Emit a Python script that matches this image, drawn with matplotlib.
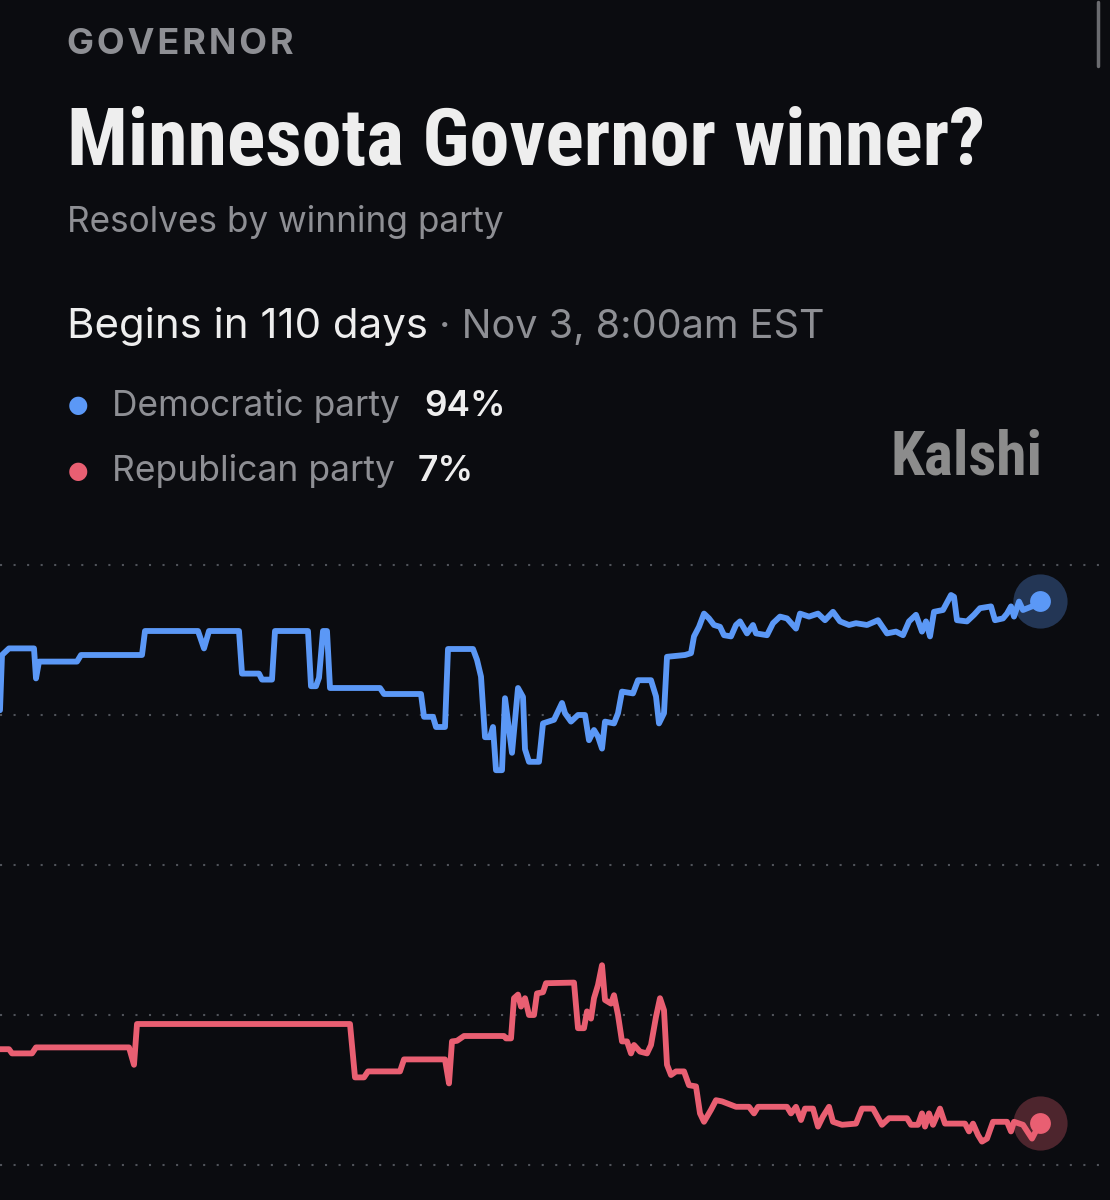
import matplotlib
matplotlib.use("Agg")
import matplotlib.pyplot as plt
from matplotlib import font_manager as fm

# ---------------- data ----------------
dem_t = [0, 2, 9, 34, 36, 39, 77, 81, 142, 145,
         198, 204, 209, 239, 242, 259, 262, 272, 275, 308,
         311, 316, 319, 323, 327, 330, 380, 384, 421, 424,
         433, 436, 445, 448, 473, 477, 481, 485, 490, 493,
         496, 502, 505, 512, 518, 523, 525, 529, 539, 543,
         554, 562, 565, 571, 578, 585, 589, 594, 598, 602,
         605, 614, 618, 622, 633, 638, 651, 656, 659, 664,
         667, 685, 691, 694, 699, 704, 709, 714, 720, 724,
         731, 736, 740, 747, 753, 756, 767, 773, 780, 787,
         796, 800, 809, 818, 825, 833, 840, 849, 856, 867,
         878, 887, 896, 903, 909, 916, 922, 926, 930, 934,
         943, 951, 954, 957, 967, 974, 980, 991, 995, 1003,
         1007, 1011, 1014, 1019, 1023, 1032, 1040]
dem_v = [75.8, 85, 86.1, 86.1, 81.1, 83.9, 83.9, 85, 85, 89,
         89, 86.1, 89, 89, 81.9, 81.9, 80.9, 80.9, 89, 89,
         79.8, 79.8, 81.2, 89, 89, 79.5, 79.5, 78.5, 78.5, 74.7,
         74.7, 73, 73, 86, 86, 84.2, 81.4, 71.3, 71.3, 73,
         65.8, 65.8, 77.8, 68.7, 79.5, 78, 69.3, 67.2, 67.2, 73.6,
         74.2, 77, 75.3, 73.9, 75, 75, 70.8, 72.5, 71.4, 69.4,
         73.9, 73.6, 75.3, 78.9, 78.6, 80.8, 80.8, 78.1, 73.6, 75.3,
         84.7, 85, 85.3, 88.1, 89.7, 91.9, 91.1, 90, 89.7, 88.3,
         88.1, 90, 90.6, 88.6, 90, 88.6, 88.3, 90.3, 91.4, 91.1,
         89.4, 91.9, 91.4, 91.9, 90.8, 92.2, 90.6, 90, 90.3, 90,
         90.8, 88.6, 88.9, 88.3, 90.6, 91.7, 88.9, 90.6, 88.1, 92.2,
         92.5, 95, 94.7, 90.8, 90.6, 91.7, 92.8, 93.1, 90.8, 91.1,
         91.9, 93.1, 91.4, 93.9, 92.5, 93.1, 94]

rep_t = [0, 9, 12, 32, 36, 129, 134, 137, 350, 355,
         364, 368, 400, 404, 445, 449, 452, 457, 464, 504,
         506, 511, 514, 518, 521, 525, 529, 534, 537, 543,
         546, 574, 578, 584, 587, 591, 594, 598, 602, 605,
         611, 614, 618, 622, 627, 631, 634, 640, 647, 651,
         656, 660, 664, 667, 671, 676, 684, 689, 696, 700,
         704, 711, 716, 722, 736, 749, 754, 758, 787, 791,
         796, 801, 805, 813, 818, 823, 829, 833, 842, 856,
         862, 873, 882, 889, 907, 911, 918, 922, 925, 929,
         933, 940, 945, 965, 969, 973, 978, 982, 987, 993,
         1007, 1011, 1014, 1023, 1032, 1040]
rep_v = [19.3, 19.3, 18.6, 18.6, 19.6, 19.6, 16.7, 23.5, 23.5, 14.6,
         14.6, 15.6, 15.6, 17.6, 17.6, 13.6, 20.6, 20.7, 21.5, 21.5,
         21.1, 21.1, 27.8, 28.4, 26.4, 27.8, 25, 25, 28.6, 28.8,
         30.3, 30.4, 22.8, 22.8, 25.6, 24.4, 27.8, 30, 33.3, 27.5,
         26.9, 28.3, 25, 20.6, 20.6, 18.6, 20, 18.9, 18.6, 20,
         24.7, 27.8, 25.8, 16.7, 15, 15.6, 15.6, 13.3, 13.1, 8.6,
         7.2, 9.2, 10.8, 10.6, 9.7, 9.7, 8.6, 9.7, 9.7, 8.6,
         9.7, 7.5, 9.4, 9.4, 6.4, 8.1, 9.7, 7.2, 6.7, 6.9,
         9.4, 9.4, 6.7, 7.8, 7.8, 6.7, 6.7, 8.6, 6.4, 8.6,
         6.7, 9.4, 6.9, 6.9, 5.6, 6.9, 5, 3.9, 4.4, 7.2,
         7.2, 5.6, 7.2, 6.7, 4.4, 7]

grid_levels = [0, 25, 50, 75, 100]
series_names = ["Democratic party", "Republican party"]
series_last = ["94%", "7%"]

# ---------------- style ----------------
BG = "#0b0c10"
BLUE = "#5b98f6"
RED = "#e95f72"
GRAY = "#8e8f94"
WHITE = "#eeeeee"
GRID = "#50535a"

avail = {f.name for f in fm.fontManager.ttflist}

def pick(names):
    for n in names:
        if n in avail:
            return n
    return "DejaVu Sans"

NARROW = pick(["Roboto Condensed", "Liberation Sans Narrow", "Roboto"])
SANS = pick(["Inter", "Roboto", "Lato"])

W, H = 1110, 1200
fig = plt.figure(figsize=(W / 100, H / 100), dpi=100, facecolor=BG)
renderer = fig.canvas.get_renderer()

def fx(px):
    return px / W

def fy(py):
    return 1 - py / H

def put(x0, x1, base, s, color, fam, weight="normal", size=20):
    t = fig.text(fx(x0), fy(base), s, color=color, fontsize=size,
                 fontweight=weight, family=[fam, "DejaVu Sans"],
                 va="baseline", ha="left")
    if x1 is not None:
        bb = t.get_window_extent(renderer)
        t.set_fontsize(size * (x1 - x0) / bb.width)
    return t

# chart axes: value 100 at y=565px, 0 at y=1165px
ax = fig.add_axes([0, fy(1190), 1, (1190 - 540) / H])
ax.set_facecolor(BG)
ax.set_xlim(0, 1110)
ax.set_ylim(-25 / 6, 625 / 6)
ax.axis("off")

for g in grid_levels:
    ax.axhline(g, color=GRID, lw=1.5, ls=(0, (1, 5.5)), zorder=1)

ax.plot(dem_t, dem_v, color=BLUE, lw=4.2, solid_joinstyle="round",
        solid_capstyle="round", zorder=3)
ax.plot(rep_t, rep_v, color=RED, lw=4.2, solid_joinstyle="round",
        solid_capstyle="round", zorder=3)

# end-point markers with halo
ax.plot(dem_t[-1], dem_v[-1], "o", ms=39, color=BLUE, alpha=0.3, mew=0, zorder=4)
ax.plot(dem_t[-1], dem_v[-1], "o", ms=15, color=BLUE, mew=0, zorder=5)
ax.plot(rep_t[-1], rep_v[-1], "o", ms=39, color=RED, alpha=0.3, mew=0, zorder=4)
ax.plot(rep_t[-1], rep_v[-1], "o", ms=15, color=RED, mew=0, zorder=5)

# ---------------- header texts ----------------
put(67, 293, 54, "G\u200aO\u200aV\u200aE\u200aR\u200aN\u200aO\u200aR", GRAY, SANS, "bold")
put(67, 985, 165, "Minnesota Governor winner?", WHITE, NARROW, "bold")
put(67, 503, 232, "Resolves by winning party", GRAY, SANS, "normal")
put(67, 428, 338, "Begins in 110 days", WHITE, SANS, "normal")
put(439, 825, 338, "\u00b7 Nov 3, 8:00am EST", GRAY, SANS, "normal")

# legend
legend_base = [416, 481]
legend_dot_y = [405, 471]
legend_col = [BLUE, RED]
legend_name_end = [400, 395]
legend_pct_x = [424, 418]
for name, pct, base, dy, col, ne, p0 in zip(series_names, series_last, legend_base,
                                            legend_dot_y, legend_col,
                                            legend_name_end, legend_pct_x):
    fig.text(fx(78), fy(dy), "\u25cf", color=col, fontsize=17,
             family="DejaVu Sans", va="center", ha="center")
    t = put(112, ne, base, name, GRAY, SANS, "normal")
    put(p0, None, base, pct, WHITE, SANS, "semibold", size=t.get_fontsize())

put(891, 1043, 475, "Kalshi", "#8c8c8c", NARROW, "bold")

# scrollbar hint at top right
fig.add_artist(plt.Line2D([fx(1098), fx(1098)], [fy(2), fy(66)], color="#6b6c70",
                          lw=2.5, solid_capstyle="round", transform=fig.transFigure))

fig.savefig("out.png", dpi=100, facecolor=BG)
